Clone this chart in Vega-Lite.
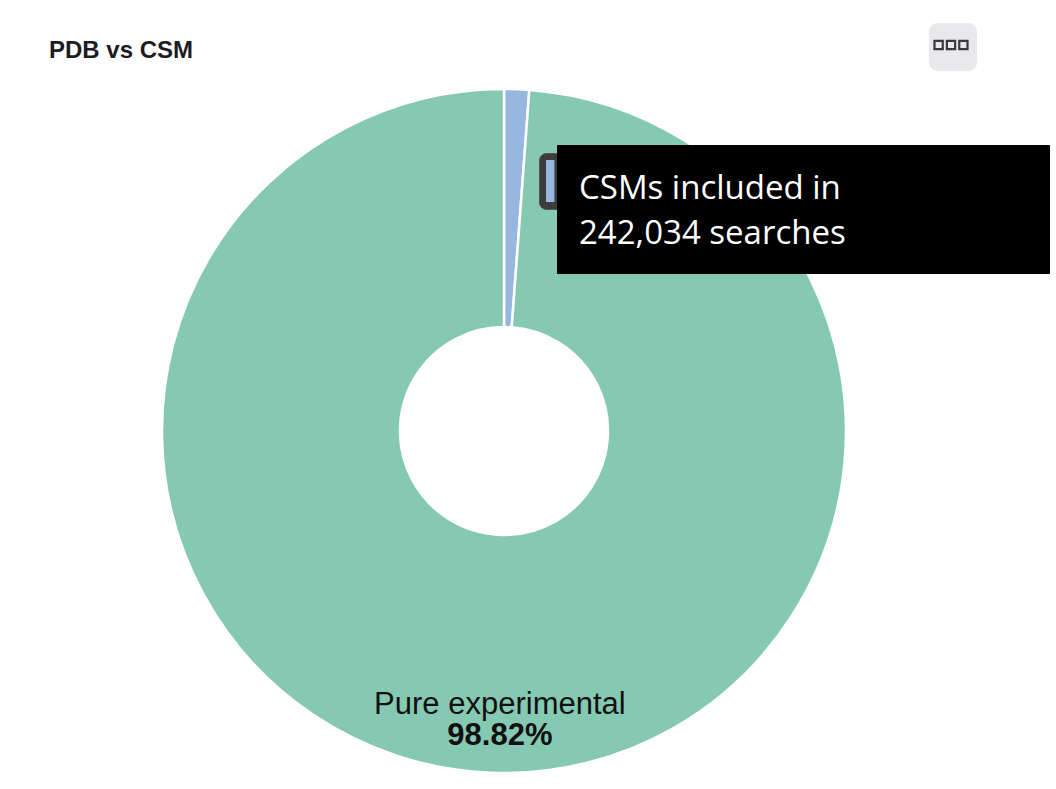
{
  "$schema": "https://vega.github.io/schema/vega-lite/v6.json",
  "width": 684,
  "height": 684,
  "autosize": {"type": "none"},
  "padding": {"left": 162, "top": 89, "right": 210, "bottom": 16},
  "background": "white",
  "config": {"view": {"stroke": null}},
  "title": {
    "text": "PDB vs CSM",
    "anchor": "start",
    "frame": "group",
    "dx": -113,
    "offset": 0,
    "dy": 40,
    "font": "Liberation Sans",
    "fontSize": 24,
    "fontWeight": "bold",
    "color": "#1d1d1f"
  },
  "data": {
    "values": [
      {"category": "CSM", "share": 0.0118},
      {"category": "Pure experimental", "share": 0.9882}
    ]
  },
  "encoding": {
    "theta": {"field": "share", "type": "quantitative", "stack": true}
  },
  "layer": [
    {
      "mark": {"type": "arc", "innerRadius": 104, "stroke": "white", "strokeWidth": 2.5},
      "encoding": {
        "color": {
          "field": "category",
          "type": "nominal",
          "scale": {"domain": ["CSM", "Pure experimental"], "range": ["#97b6e0", "#86c9b2"]},
          "legend": {
            "orient": "none",
            "legendX": 395,
            "legendY": 56,
            "zindex": 2,
            "values": ["CSM"],
            "title": ["CSMs included in", "242,034 searches"],
            "titleFont": "Open Sans",
            "titleFontSize": 33,
            "titleFontWeight": "normal",
            "titleColor": "white",
            "titleLineHeight": 45,
            "titleBaseline": "line-top",
            "titleLimit": 2000,
            "titlePadding": 0,
            "titleAnchor": "start",
            "fillColor": "black",
            "strokeColor": "black",
            "padding": 22,
            "cornerRadius": 0,
            "symbolSize": 0,
            "symbolOpacity": 0,
            "symbolStrokeWidth": 0,
            "labelExpr": "''",
            "labelFontSize": 1,
            "labelOffset": 447
          }
        },
        "stroke": {
          "field": "category",
          "type": "nominal",
          "scale": {"domain": ["Pure experimental", "CSM"], "range": ["white", "white"]},
          "legend": {
            "orient": "none",
            "legendX": 377,
            "legendY": 64,
            "zindex": 1,
            "values": ["CSM"],
            "title": null,
            "fillColor": "#3c3c3c",
            "strokeColor": "#555555",
            "cornerRadius": 7,
            "padding": 7,
            "symbolType": "M-1,-1H-0.6V1H-1Z",
            "symbolSize": 1764,
            "symbolFillColor": "#97b6e0",
            "symbolStrokeWidth": 0,
            "symbolOpacity": 1,
            "labelExpr": "''",
            "labelFontSize": 1,
            "labelOffset": 0
          }
        },
        "opacity": {
          "field": "share",
          "type": "quantitative",
          "scale": {"domain": [0, 1], "range": [1, 1]},
          "legend": {
            "orient": "none",
            "legendX": 767,
            "legendY": -66,
            "zindex": 3,
            "values": [0.5],
            "title": null,
            "fillColor": "#e9e9eb",
            "strokeColor": "#e9e9eb",
            "cornerRadius": 8,
            "padding": 4,
            "symbolType": "M0,-1L0,-1M0,1L0,1M-1,-0.25H-0.5V0.25H-1ZM-0.25,-0.25H0.25V0.25H-0.25ZM0.5,-0.25H1V0.25H0.5Z",
            "symbolSize": 1089,
            "symbolFillColor": "transparent",
            "symbolStrokeColor": "#3a3a3c",
            "symbolStrokeWidth": 2.2,
            "symbolOpacity": 1,
            "labelExpr": "''",
            "labelFontSize": 1,
            "labelOffset": -5
          }
        }
      }
    },
    {
      "mark": {"type": "text", "radius": 300, "dx": 7, "dy": -17, "baseline": "alphabetic", "font": "Liberation Sans", "fontSize": 31, "color": "#111111"},
      "encoding": {
        "detail": {"field": "category", "type": "nominal"},
        "text": {"field": "category", "type": "nominal", "condition": {"test": "datum.category === 'CSM'", "value": ""}}
      }
    },
    {
      "mark": {"type": "text", "radius": 300, "dx": 7, "dy": 14, "baseline": "alphabetic", "font": "Liberation Sans", "fontSize": 31, "fontWeight": "bold", "color": "#111111"},
      "encoding": {
        "detail": {"field": "category", "type": "nominal"},
        "text": {"field": "share", "type": "quantitative", "format": ".2%", "condition": {"test": "datum.category === 'CSM'", "value": ""}}
      }
    }
  ]
}
